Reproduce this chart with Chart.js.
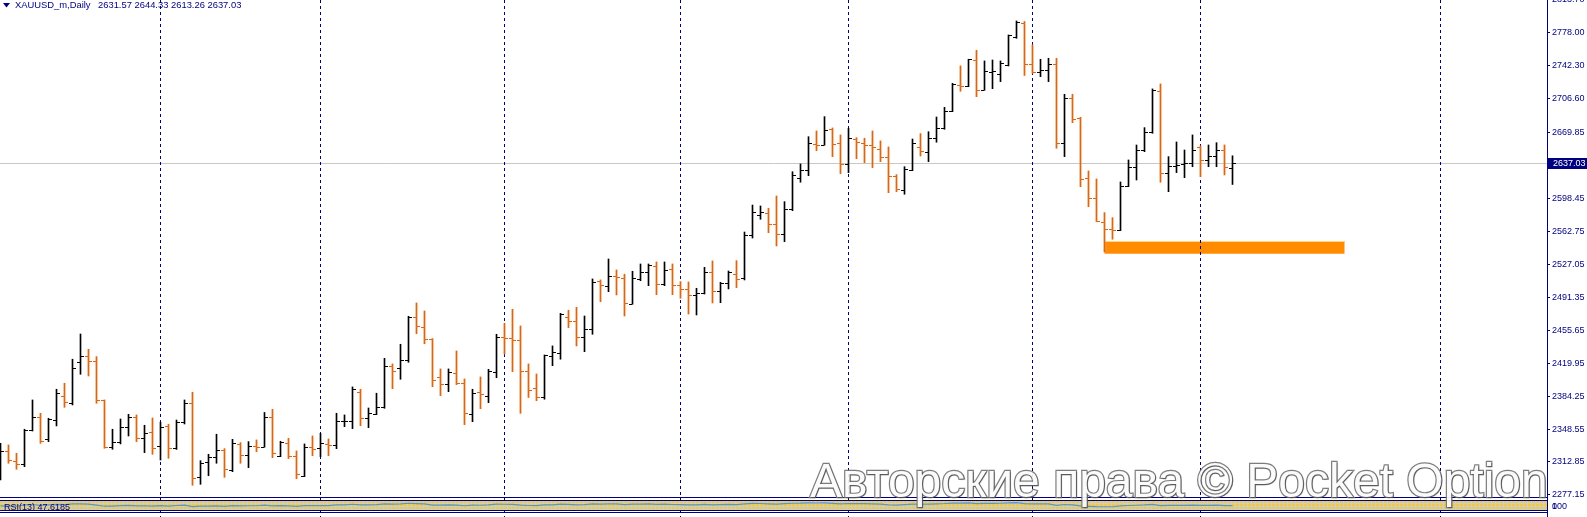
<!DOCTYPE html>
<html>
<head>
<meta charset="utf-8">
<script src="https://cdn.jsdelivr.net/npm/chart.js@4.4.1/dist/chart.umd.min.js"></script>
<style>
  html, body { margin: 0; padding: 0; background: #fff; overflow: hidden; }
  #wrap { position: relative; width: 1587px; height: 517px; }
  #chart { position: absolute; left: 0; top: 0; }
  #rsi { position: absolute; left: 0; top: 501px; }
  #mark {
    position: absolute; left: 810px; top: 457px;
    font: 48px/48px "Liberation Sans", Arial, sans-serif;
    color: #fbfbfb; -webkit-text-stroke: 2.4px #7c7c7c; paint-order: stroke fill;
    text-shadow: 1px 1px 1px rgba(0,0,0,0.35), 0 0 2px rgba(0,0,0,0.25);
    white-space: nowrap; opacity: 0.93; pointer-events: none;
  }
</style>
</head>
<body>
<div id="wrap">
  <canvas id="chart" width="1587" height="517"></canvas>
  <canvas id="rsi" width="1587" height="9"></canvas>
  <div id="mark">Авторские права © Pocket Option</div>
</div>
<script>
//-------------------- DATA BLOCK --------------------
const symbolTitle = 'XAUUSD_m,Daily';

const opens = [
  2317.2, 2324.8, 2314.0, 2310.4, 2347.5, 2361.3, 2337.4, 2358.3, 2384.7, 2376.4,
  2420.8, 2427.6, 2421.9, 2380.0, 2329.4, 2334.9, 2351.1, 2361.9, 2338.9, 2345.0,
  2330.2, 2351.9, 2327.7, 2355.9, 2376.4, 2296.3, 2312.6, 2318.6, 2325.9, 2304.2,
  2332.7, 2320.1, 2330.5, 2329.4, 2361.3, 2319.4, 2333.8, 2319.7, 2297.7, 2329.1,
  2327.7, 2332.4, 2331.0, 2357.3, 2357.3, 2388.3, 2360.2, 2364.8, 2372.1, 2416.8,
  2414.6, 2423.0, 2469.5, 2459.3, 2446.0, 2404.9, 2397.0, 2408.9, 2398.4, 2364.5,
  2388.3, 2384.3, 2410.6, 2448.5, 2447.1, 2444.9, 2411.1, 2393.0, 2383.2, 2427.6,
  2430.5, 2470.2, 2465.5, 2448.2, 2456.5, 2509.1, 2503.1, 2513.9, 2512.1, 2484.2,
  2511.3, 2518.2, 2524.7, 2505.6, 2521.5, 2504.5, 2500.2, 2493.7, 2495.5, 2518.2,
  2498.0, 2506.3, 2516.4, 2511.7, 2558.6, 2580.2, 2582.8, 2570.5, 2559.4, 2586.4,
  2620.0, 2628.6, 2657.1, 2656.4, 2673.7, 2658.5, 2635.1, 2662.9, 2658.5, 2655.7,
  2651.7, 2642.7, 2622.8, 2607.3, 2629.3, 2653.9, 2648.5, 2663.3, 2674.1, 2692.8,
  2720.7, 2719.6, 2747.7, 2715.6, 2735.1, 2732.6, 2742.6, 2773.3, 2788.6, 2743.7,
  2735.4, 2737.2, 2743.4, 2657.9, 2706.6, 2684.9, 2620.0, 2598.3, 2572.7, 2564.8,
  2564.0, 2611.7, 2632.5, 2650.6, 2669.8, 2714.8, 2625.4, 2633.3, 2635.5, 2636.2,
  2654.2, 2639.8, 2644.1, 2650.6, 2631.57
];
const highs = [
  2333.1, 2331.3, 2322.3, 2348.3, 2380.0, 2365.6, 2360.2, 2391.6, 2398.1, 2424.1,
  2451.4, 2434.9, 2426.9, 2380.0, 2348.3, 2359.4, 2364.5, 2363.8, 2352.6, 2360.5,
  2355.9, 2353.7, 2358.3, 2380.0, 2388.3, 2314.3, 2321.2, 2342.9, 2327.3, 2337.4,
  2333.8, 2334.9, 2336.7, 2366.5, 2369.9, 2335.3, 2338.5, 2324.8, 2332.4, 2341.0,
  2343.9, 2337.8, 2365.6, 2363.8, 2394.1, 2391.6, 2371.3, 2387.3, 2425.1, 2419.0,
  2440.3, 2470.6, 2485.0, 2476.3, 2446.4, 2413.6, 2413.6, 2433.0, 2402.7, 2391.6,
  2404.9, 2413.2, 2451.1, 2463.0, 2478.2, 2460.1, 2419.0, 2408.1, 2428.7, 2438.5,
  2473.8, 2477.1, 2480.3, 2470.9, 2511.0, 2509.9, 2532.6, 2520.7, 2516.1, 2519.3,
  2527.2, 2527.2, 2529.4, 2529.4, 2527.2, 2508.1, 2507.7, 2500.9, 2523.6, 2530.5,
  2507.4, 2519.6, 2530.8, 2561.8, 2591.0, 2590.0, 2587.5, 2600.8, 2594.7, 2627.1,
  2635.5, 2665.0, 2671.2, 2686.7, 2674.4, 2666.9, 2674.1, 2663.9, 2663.3, 2671.2,
  2660.4, 2653.9, 2623.9, 2632.5, 2662.5, 2668.3, 2670.4, 2686.3, 2696.8, 2722.8,
  2741.6, 2748.8, 2758.5, 2747.0, 2748.0, 2747.0, 2775.1, 2790.3, 2789.7, 2764.3,
  2748.8, 2749.9, 2749.9, 2710.9, 2710.9, 2686.0, 2627.9, 2619.2, 2582.8, 2577.3,
  2616.0, 2639.8, 2656.0, 2674.8, 2716.7, 2722.1, 2643.4, 2659.3, 2650.6, 2666.9,
  2655.0, 2656.0, 2658.5, 2656.0, 2644.33
];
const lows = [
  2293.4, 2311.5, 2305.0, 2307.8, 2346.4, 2333.1, 2334.9, 2351.9, 2372.1, 2374.6,
  2407.8, 2406.0, 2376.4, 2327.7, 2326.6, 2332.4, 2341.0, 2334.9, 2323.0, 2321.2,
  2315.0, 2316.9, 2326.5, 2354.0, 2287.7, 2288.7, 2298.0, 2311.5, 2296.3, 2302.4,
  2311.5, 2306.7, 2324.0, 2328.8, 2317.5, 2318.6, 2316.5, 2294.8, 2297.0, 2319.7,
  2318.6, 2319.7, 2327.3, 2351.1, 2348.9, 2352.2, 2350.0, 2364.1, 2371.0, 2392.2,
  2402.4, 2420.8, 2451.8, 2440.9, 2394.4, 2384.7, 2389.0, 2396.6, 2353.3, 2356.5,
  2370.6, 2377.1, 2404.1, 2429.8, 2410.6, 2365.6, 2382.7, 2379.2, 2380.8, 2417.1,
  2424.1, 2458.3, 2438.5, 2432.3, 2451.1, 2486.4, 2497.2, 2493.7, 2470.9, 2483.6,
  2509.1, 2503.7, 2494.0, 2503.7, 2494.0, 2490.1, 2473.1, 2472.0, 2494.7, 2485.0,
  2485.3, 2500.2, 2501.6, 2509.9, 2555.3, 2575.6, 2561.1, 2546.7, 2551.4, 2584.9,
  2615.7, 2622.8, 2649.9, 2655.7, 2643.4, 2625.0, 2626.1, 2641.2, 2636.9, 2631.5,
  2638.0, 2604.4, 2605.5, 2602.7, 2628.2, 2644.1, 2638.0, 2659.0, 2673.0, 2692.1,
  2714.2, 2719.1, 2708.3, 2715.2, 2717.0, 2724.6, 2741.6, 2771.5, 2731.3, 2733.7,
  2730.0, 2724.6, 2652.5, 2643.4, 2680.2, 2610.9, 2589.2, 2573.0, 2540.2, 2554.0,
  2563.3, 2610.9, 2618.1, 2648.8, 2668.7, 2615.7, 2605.5, 2626.1, 2620.6, 2632.5,
  2621.7, 2632.5, 2632.5, 2623.6, 2613.26
];
const closes = [
  2324.8, 2315.0, 2310.4, 2347.5, 2361.3, 2335.9, 2359.4, 2387.3, 2377.5, 2415.0,
  2427.6, 2421.9, 2380.0, 2329.4, 2334.2, 2351.1, 2361.9, 2338.9, 2343.9, 2328.4,
  2351.1, 2328.0, 2355.9, 2376.4, 2295.2, 2311.5, 2318.6, 2325.9, 2305.0, 2333.8,
  2320.5, 2330.5, 2329.4, 2361.3, 2322.6, 2334.9, 2319.7, 2299.6, 2328.8, 2326.6,
  2333.1, 2331.3, 2356.9, 2357.6, 2391.9, 2360.2, 2366.3, 2372.4, 2416.5, 2411.1,
  2423.3, 2469.5, 2459.8, 2445.7, 2401.3, 2397.0, 2410.0, 2398.7, 2365.6, 2387.3,
  2386.5, 2411.7, 2448.5, 2446.8, 2444.9, 2411.1, 2390.6, 2383.2, 2428.4, 2431.6,
  2473.1, 2465.5, 2448.2, 2456.5, 2508.1, 2504.5, 2514.2, 2512.8, 2485.0, 2511.7,
  2518.2, 2525.8, 2505.6, 2521.1, 2504.5, 2500.2, 2493.7, 2495.5, 2518.9, 2498.0,
  2506.7, 2518.2, 2511.3, 2558.6, 2583.5, 2583.2, 2570.8, 2559.4, 2586.4, 2623.6,
  2628.6, 2657.9, 2656.4, 2672.3, 2657.1, 2635.1, 2663.9, 2659.3, 2655.7, 2653.9,
  2642.7, 2622.8, 2608.1, 2629.7, 2658.5, 2649.2, 2663.3, 2674.1, 2692.8, 2722.4,
  2719.6, 2748.8, 2715.2, 2736.1, 2736.1, 2745.1, 2774.8, 2788.9, 2743.7, 2735.4,
  2737.2, 2743.7, 2658.5, 2706.6, 2684.5, 2618.9, 2598.3, 2573.8, 2564.8, 2564.0,
  2611.7, 2632.5, 2650.6, 2669.8, 2715.6, 2625.4, 2633.3, 2634.1, 2636.9, 2650.6,
  2639.8, 2644.1, 2650.6, 2632.5, 2637.03
];
const rsiValues = [
  45, 44, 42, 56, 61, 51, 57, 63, 60, 67,
  69, 66, 55, 42, 44, 49, 52, 45, 47, 43,
  49, 44, 50, 55, 38, 42, 44, 46, 41, 48,
  45, 47, 47, 54, 45, 49, 46, 41, 49, 48,
  50, 49, 56, 56, 64, 56, 58, 59, 68, 66,
  68, 75, 71, 67, 55, 54, 57, 54, 47, 54,
  53, 58, 65, 64, 63, 54, 50, 48, 58, 58,
  65, 63, 58, 60, 68, 66, 68, 67, 59, 65,
  66, 67, 62, 65, 61, 60, 58, 58, 63, 58,
  60, 62, 60, 69, 73, 72, 69, 66, 70, 75,
  76, 79, 78, 80, 74, 68, 72, 71, 70, 69,
  66, 58, 55, 60, 66, 64, 66, 69, 72, 77,
  76, 79, 70, 73, 73, 75, 79, 81, 70, 68,
  68, 69, 52, 61, 57, 45, 41, 37, 36, 36,
  45, 50, 53, 56, 62, 49, 51, 51, 52, 54,
  51, 52, 54, 49, 47.6
];
const rsiLabel = 'RSI(13) 47.6185';
const priceTicks = [2813.70, 2778.00, 2742.30, 2706.60, 2669.85, 2598.45, 2562.75,
  2527.05, 2491.35, 2455.65, 2419.95, 2384.25, 2348.55, 2312.85, 2277.15];
const lastPrice = 2637.03;
const monthStarts = [20, 40, 63, 85, 106, 129, 150, 180];
const supportZone = { from: 138, to: 168, low: 2538.3, high: 2552.1 };

//-------------------- SETUP BLOCK --------------------
const NAVY = '#000080';
const BULL = '#000000';
const BEAR = '#D2691E';
const GLOW = 'rgba(255,205,150,0.6)';
const FONT = "'Liberation Sans', Arial, sans-serif";
const X_MIN = -0.0625, X_MAX = 193.3125;   // 8px per daily bar
const Y_MIN = 2274.96, Y_MAX = 2812.96;

const bullBars = [], bearBars = [];
opens.forEach((o, i) => {
  const bar = { x: i, y: [lows[i], highs[i]] };
  (closes[i] >= o ? bullBars : bearBars).push(bar);
});

// MT4 style extras: zone, separators, open/close ticks, header
const mtDecor = {
  id: 'mtDecor',
  beforeDatasetsDraw(chart) {
    const { ctx, chartArea: a, scales: { x, y } } = chart;
    ctx.save();
    const zx1 = x.getPixelForValue(supportZone.from), zx2 = x.getPixelForValue(supportZone.to);
    const zy1 = y.getPixelForValue(supportZone.high), zy2 = y.getPixelForValue(supportZone.low);
    ctx.fillStyle = '#FF8C00';
    ctx.fillRect(zx1, zy1, zx2 - zx1, zy2 - zy1);
    ctx.fillStyle = '#FFD88A';
    ctx.fillRect(zx1, zy1, zx2 - zx1, 1);

    const py = Math.round(y.getPixelForValue(lastPrice)) + 0.5;
    ctx.strokeStyle = '#C8C8C8';
    ctx.lineWidth = 1;
    ctx.beginPath(); ctx.moveTo(a.left, py); ctx.lineTo(a.right, py); ctx.stroke();

    ctx.strokeStyle = '#000070';
    ctx.setLineDash([3, 3]);
    monthStarts.forEach(m => {
      const px = Math.floor(x.getPixelForValue(m)) + 0.5;
      ctx.beginPath(); ctx.moveTo(px, 0); ctx.lineTo(px, chart.height); ctx.stroke();
    });
    ctx.restore();
  },
  beforeDatasetDraw(chart, args) {
    if (args.index === 1) {
      chart.ctx.save();
      chart.ctx.shadowColor = GLOW;
      chart.ctx.shadowBlur = 2;
    }
  },
  afterDatasetDraw(chart, args) {
    if (args.index === 1) chart.ctx.restore();
  },
  afterDatasetsDraw(chart) {
    const { ctx, scales: { x, y } } = chart;
    ctx.save();
    opens.forEach((o, i) => {
      const up = closes[i] >= o;
      ctx.fillStyle = up ? BULL : BEAR;
      ctx.shadowColor = GLOW;
      ctx.shadowBlur = up ? 0 : 2;
      const px = Math.floor(x.getPixelForValue(i));
      ctx.fillRect(px - 3, Math.round(y.getPixelForValue(o)), 3, 1);
      ctx.fillRect(px + 1, Math.round(y.getPixelForValue(closes[i])), 3, 1);
    });
    ctx.restore();
  },
  afterDraw(chart) {
    const { ctx, chartArea: a, scales: { y } } = chart;
    ctx.save();
    // header
    ctx.fillStyle = NAVY;
    ctx.beginPath(); ctx.moveTo(3, 3); ctx.lineTo(10, 3); ctx.lineTo(6.5, 7.5); ctx.closePath(); ctx.fill();
    ctx.font = '9.4px ' + FONT;
    ctx.textBaseline = 'middle';
    const n = opens.length - 1;
    ctx.fillText(symbolTitle, 15, 5.5);
    ctx.fillText([opens[n], highs[n], lows[n], closes[n]].map(v => v.toFixed(2)).join(' '), 98, 5.5);

    // last price box on the axis
    const py = Math.round(y.getPixelForValue(lastPrice));
    ctx.fillStyle = NAVY;
    ctx.fillRect(a.right + 1, py - 5, chart.width - a.right - 1, 11);
    ctx.fillStyle = '#fff';
    ctx.font = '9px ' + FONT;
    ctx.fillText(lastPrice.toFixed(2), a.right + 6, py + 0.5);

    // frame of the indicator window
    ctx.fillStyle = NAVY;
    ctx.fillRect(0, a.bottom, a.right + 1, 1);
    ctx.fillRect(0, a.bottom + 3, a.right + 1, 1);
    ctx.fillRect(0, a.bottom + 13, a.right + 1, 1);
    ctx.fillRect(0, a.bottom + 15, a.right + 1, 1);
    ctx.fillRect(a.right, a.bottom, 1, chart.height - a.bottom);
    ctx.restore();
  }
};

//-------------------- CONFIG BLOCK --------------------
const config = {
  type: 'bar',
  data: {
    datasets: [
      { data: bullBars, backgroundColor: BULL, barThickness: 1, grouped: false, borderWidth: 0 },
      { data: bearBars, backgroundColor: BEAR, barThickness: 1, grouped: false, borderWidth: 0 }
    ]
  },
  options: {
    responsive: false,
    animation: false,
    events: [],
    layout: { padding: { left: 0, right: 0, top: 0, bottom: 20 } },
    plugins: { legend: { display: false }, tooltip: { enabled: false } },
    scales: {
      x: { type: 'linear', min: X_MIN, max: X_MAX, offset: false, display: false },
      y: {
        position: 'right',
        min: Y_MIN, max: Y_MAX,
        afterBuildTicks: s => { s.ticks = priceTicks.map(v => ({ value: v })); },
        afterFit: s => { s.width = 40; s.paddingTop = 0; s.paddingBottom = 0; },
        grid: { drawOnChartArea: false, tickLength: 3, color: NAVY, tickColor: NAVY },
        border: { display: true, color: NAVY, width: 1 },
        ticks: {
          autoSkip: false, padding: 2, color: NAVY,
          font: { family: FONT, size: 9 },
          callback: v => Number(v).toFixed(2)
        }
      }
    }
  },
  plugins: [mtDecor]
};

// small RSI window under the price chart
const rsiDecor = {
  id: 'rsiDecor',
  beforeDatasetsDraw(chart) {
    const { ctx, chartArea: a } = chart;
    // yellow dotted level lines packed into the tiny window
    const tile = document.createElement('canvas');
    tile.width = 4; tile.height = 3;
    const t = tile.getContext('2d');
    t.fillStyle = '#CFCFC0'; t.fillRect(0, 0, 4, 3);
    t.fillStyle = '#EEC94C'; t.fillRect(0, 0, 3, 2);
    ctx.save();
    ctx.fillStyle = ctx.createPattern(tile, 'repeat');
    ctx.fillRect(a.left, a.top, a.right - a.left, a.bottom - a.top);
    ctx.restore();
  },
  afterDraw(chart) {
    const { ctx, chartArea: a } = chart;
    ctx.save();
    ctx.fillStyle = NAVY;
    ctx.font = '9px ' + FONT;
    ctx.textBaseline = 'bottom';
    ctx.fillText(rsiLabel, 4, 11);
    ctx.fillText('100', a.right + 5, 10);
    ctx.fillText('0', a.right + 5, 10);
    ctx.restore();
  }
};

const rsiConfig = {
  type: 'line',
  data: {
    datasets: [{
      data: rsiValues.map((v, i) => ({ x: i, y: v })),
      borderColor: '#4F98DA', borderWidth: 1.2, pointRadius: 0, tension: 0
    }]
  },
  options: {
    responsive: false,
    animation: false,
    events: [],
    layout: { padding: { left: 0, right: 40, top: 0, bottom: 0 } },
    plugins: { legend: { display: false }, tooltip: { enabled: false } },
    scales: {
      x: { type: 'linear', min: X_MIN, max: X_MAX, display: false },
      y: { min: 0, max: 100, display: false }
    }
  },
  plugins: [rsiDecor]
};

//-------------------- RENDER BLOCK --------------------
const priceChart = new Chart(document.getElementById('chart'), config);
const rsiChart = new Chart(document.getElementById('rsi'), rsiConfig);
</script>
</body>
</html>
